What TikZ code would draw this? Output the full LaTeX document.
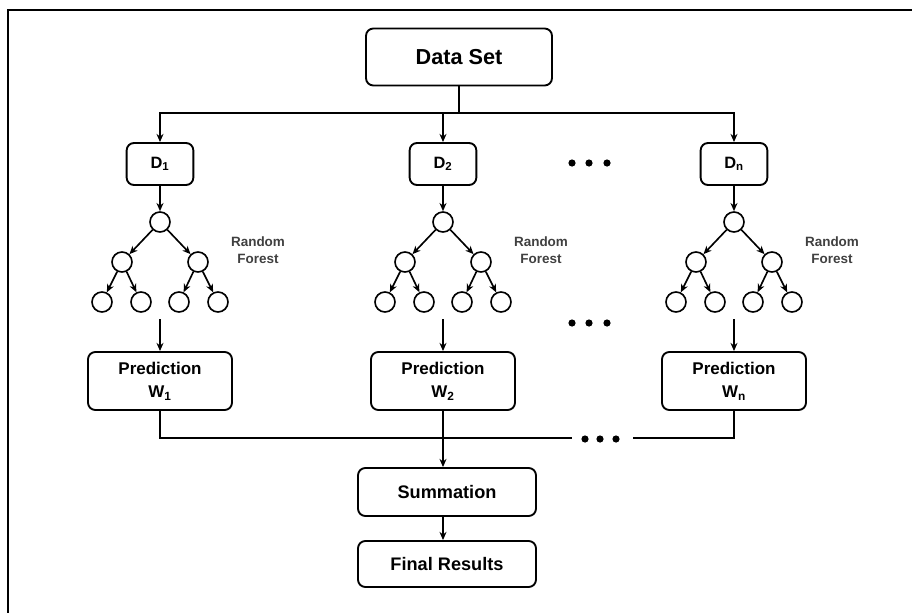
\documentclass[tikz,border=0pt]{standalone}
\usepackage{fontspec}
\setmainfont{Liberation Sans}
\usetikzlibrary{arrows.meta}
\tikzset{
  box/.style={draw, line width=1.6pt, rounded corners=0.22cm, inner sep=0pt, align=center, font=\bfseries},
  leaf/.style={draw, circle, line width=1.4pt, minimum size=0.6cm, inner sep=0pt},
  arr/.style={-{Stealth[length=7pt,width=6pt]}, line width=1.4pt},
  wire/.style={line width=1.6pt}
}
\begin{document}
\begin{tikzpicture}[x=0.03cm, y=-0.03cm]
      \useasboundingbox (0,0) rectangle (912,613);
      \draw[line width=2.2pt] (8,613) -- (8,10) -- (912,10);
      \draw
        (459,57) node[box, minimum width=5.58cm, minimum height=1.71cm, font=\bfseries\fontsize{18.5}{20}\selectfont] (data){Data Set}
        (160,164) node[box, minimum width=2.0cm, minimum height=1.26cm, font=\bfseries\fontsize{14}{16}\selectfont] (d1){D\textsubscript{1}}
        (443,164) node[box, minimum width=2.0cm, minimum height=1.26cm, font=\bfseries\fontsize{14}{16}\selectfont] (d2){D\textsubscript{2}}
        (734,164) node[box, minimum width=2.0cm, minimum height=1.26cm, font=\bfseries\fontsize{14}{16}\selectfont] (dn){D\textsubscript{n}}
        (160,381) node[box, minimum width=4.32cm, minimum height=1.74cm, font=\bfseries\fontsize{14.5}{20}\selectfont] (p1){Prediction\\W\textsubscript{1}}
        (443,381) node[box, minimum width=4.32cm, minimum height=1.74cm, font=\bfseries\fontsize{14.5}{20}\selectfont] (p2){Prediction\\W\textsubscript{2}}
        (734,381) node[box, minimum width=4.32cm, minimum height=1.74cm, font=\bfseries\fontsize{14.5}{20}\selectfont] (pn){Prediction\\W\textsubscript{n}}
        (447,492) node[box, minimum width=5.34cm, minimum height=1.44cm, font=\bfseries\fontsize{15.5}{18}\selectfont] (sum){Summation}
        (447,564) node[box, minimum width=5.34cm, minimum height=1.38cm, font=\bfseries\fontsize{15.5}{18}\selectfont] (final){Final Results};
      \coordinate (split) at (459,113);
      \coordinate (merge) at (443,438);
      \coordinate (gapl) at (572,438);
      \coordinate (gapr) at (633,438);
      % split of the data set
      \draw[wire] (data) -- (split);
      \draw[arr] (split) -| (d1);
      \draw[arr] (split) -| (dn);
      \draw[arr] (d2 |- split) -- (d2);
      % one forest per subset
      \foreach \i/\c in {1/160,2/443,n/734} {
        \draw
          (\c,222) node[leaf] (t\i-0){}
          (\c-38,262) node[leaf] (t\i-1){}
          (\c+38,262) node[leaf] (t\i-2){}
          (\c-58,302) node[leaf] (t\i-3){}
          (\c-19,302) node[leaf] (t\i-4){}
          (\c+19,302) node[leaf] (t\i-5){}
          (\c+58,302) node[leaf] (t\i-6){}
          (\c+98,250) node[align=center, font=\bfseries\fontsize{11.5}{15}\selectfont, text=black!75] (rf\i){Random\\Forest};
        \coordinate (f\i) at (\c,319);
        \begin{scope}[arr]
          \draw (d\i) to (t\i-0);
          \draw (t\i-0) to (t\i-1);
          \draw (t\i-0) to (t\i-2);
          \draw (t\i-1) to (t\i-3);
          \draw (t\i-1) to (t\i-4);
          \draw (t\i-2) to (t\i-5);
          \draw (t\i-2) to (t\i-6);
          \draw (f\i) to (p\i);
        \end{scope}
      }
      % joining the predictions
      \draw[wire] (p1) |- (gapl);
      \draw[wire] (gapr) -| (pn);
      \draw[wire] (p2) -- (merge);
      \draw[arr] (merge) -- (merge |- sum.north);
      \draw[arr] (sum.south -| merge) -- (merge |- final.north);
      % dots
      \foreach \x in {572,589,607} {
        \fill (\x,163) circle (3.6);
        \fill (\x,323) circle (3.6);
      }
      \foreach \x in {585,600,616}
        \fill (\x,439) circle (3.6);
    \end{tikzpicture}
\end{document}
